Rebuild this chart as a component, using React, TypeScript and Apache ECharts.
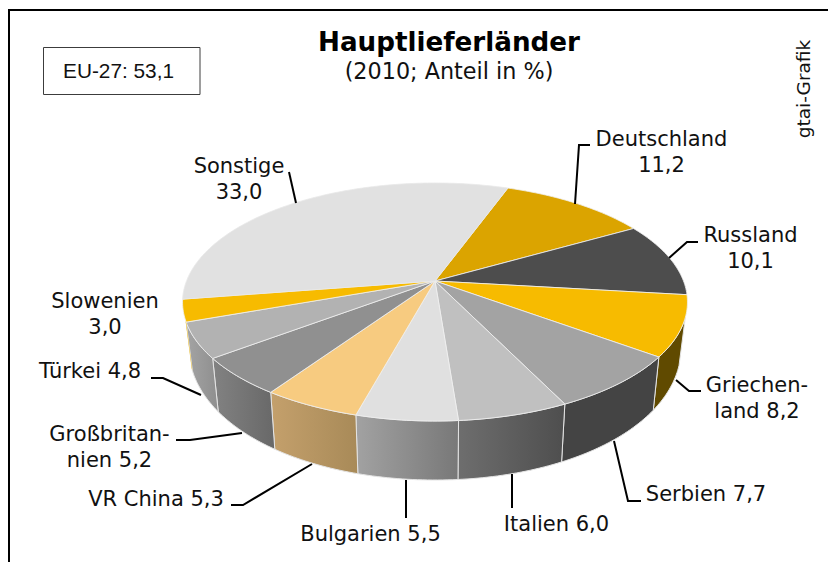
import React, { useEffect, useRef } from "react";
import * as echarts from "echarts";

const countries = ["Deutschland", "Russland", "Griechenland", "Serbien", "Italien", "Bulgarien", "VR China", "Großbritannien", "Türkei", "Slowenien", "Sonstige"];
const shares = [11.2, 10.1, 8.2, 7.7, 6.0, 5.5, 5.3, 5.2, 4.8, 3.0, 33.0];
const topColors = ["#DBA400", "#4D4D4D", "#F7BB00", "#A3A3A3", "#C0C0C0", "#E0E0E0", "#F7CB80", "#909090", "#B2B2B2", "#F7BB00", "#E1E1E1"];
const wallLeft = ["#DBA400", "#4D4D4D", "#604A00", "#444444", "#6E6E6E", "#A2A2A2", "#C4A06C", "#828282", "#A4A4A4", "#F7BB00", "#E1E1E1"];
const wallRight = ["#DBA400", "#4D4D4D", "#604A00", "#444444", "#4E4E4E", "#787878", "#A88A58", "#686868", "#8E8E8E", "#F7BB00", "#E1E1E1"];

const title = "Hauptlieferländer";
const subtitle = "(2010; Anteil in %)";
const boxText = "EU-27: 53,1";
const sourceText = "gtai-Grafik";
const labelLines = [
  ["Deutschland", "11,2"],
  ["Russland", "10,1"],
  ["Griechen-", "land 8,2"],
  ["Serbien 7,7"],
  ["Italien 6,0"],
  ["Bulgarien 5,5"],
  ["VR China 5,3"],
  ["Großbritan-", "nien 5,2"],
  ["Türkei 4,8"],
  ["Slowenien", "3,0"],
  ["Sonstige", "33,0"],
];

// layout, separate from the data
const labelAnchors = [
  [661.5, 138.5], [750.5, 234.5], [757, 384.5], [706, 493.5], [556.5, 523.5], [370.5, 533.5],
  [156, 498.5], [109.5, 433.5], [90, 370.5], [105, 300.5], [239, 165.5],
];
const LINE_STEP = 26;
const leaderLines: number[][][] = [
  [[575, 204], [579, 145], [590, 145]],
  [[669, 258], [687, 242], [698, 242]],
  [[676, 380], [689, 391], [701, 391]],
  [[614, 441], [628, 501], [641, 501]],
  [[512, 474], [512, 508]],
  [[406, 480], [406, 518]],
  [[312, 464], [243, 505], [231, 505]],
  [[242, 433], [190, 440], [176, 440]],
  [[201, 395], [163, 378], [151, 378]],
  [],
  [[296, 203], [289, 172]],
];

const CX = 435;
const CY = 281;
const A = 248.5;
const B = 115.3;
const K = 0.1765;
const START_DEG = 20;
const WALL_MIN = 107.5;
const WALL_MAX = 251.3;

const total = shares.reduce((s, v) => s + v, 0);
const rad = (d: number) => (d * Math.PI) / 180;

function topPoint(deg: number): number[] {
  const X = Math.sin(rad(deg));
  const Y = -Math.cos(rad(deg));
  const den = 1 - K * Y;
  return [CX + (A * X) / den, CY + (B * Y) / den];
}
function bottomPoint(deg: number): number[] {
  const Y = -Math.cos(rad(deg));
  const [x, y] = topPoint(deg);
  const h = 59 - 17 * Math.pow(Math.max(0, 1 - Y), 1.2);
  return [CX + (x - CX) * 0.975, y + h];
}
function arc(from: number, to: number, fn: (d: number) => number[]): number[][] {
  const n = Math.max(2, Math.ceil(Math.abs(to - from)));
  const pts: number[][] = [];
  for (let i = 0; i <= n; i++) pts.push(fn(from + ((to - from) * i) / n));
  return pts;
}

function renderSlice(params: any, api: any) {
  const i = params.dataIndex;
  let before = 0;
  for (let j = 0; j < i; j++) before += shares[j];
  const value = api.value(0);
  const start = START_DEG + (before / total) * 360;
  const end = start + (value / total) * 360;
  const children: any[] = [];
  const a = Math.max(start, WALL_MIN);
  const b = Math.min(end, WALL_MAX);
  if (b > a) {
    const thin = b - a < 5;
    children.push({
      type: "polygon",
      shape: { points: [...arc(a, b, topPoint), ...arc(b, a, bottomPoint)] },
      style: {
        fill: new echarts.graphic.LinearGradient(0, 0, 1, 0, [
          { offset: 0, color: wallLeft[i] },
          { offset: 1, color: wallRight[i] },
        ]),
        stroke: thin ? "none" : "#E4E4E4",
        lineWidth: thin ? 0 : 1,
      },
    });
  }
  children.push({
    type: "polygon",
    shape: { points: [[CX, CY], ...arc(start, end, topPoint)] },
    style: { fill: topColors[i], stroke: topColors[i] === "#E1E1E1" ? "#E8E8E8" : "#F0F0F0", lineWidth: 0.8 },
  });
  return { type: "group", children };
}

const VERDANA = "'DejaVu Sans', Verdana, sans-serif";
const ARIAL = "'Liberation Sans', Arial, sans-serif";

function buildGraphics() {
  const g: any[] = [
    { type: "polyline", z: 10, shape: { points: [[9, 562], [9, 10], [828, 10]] }, style: { fill: "none", stroke: "#000", lineWidth: 2 } },
    { type: "rect", z: 10, shape: { x: 43.5, y: 47.5, width: 156.5, height: 47 }, style: { fill: "#fff", stroke: "#3c3c3c", lineWidth: 1 } },
    { type: "text", z: 11, x: 118.5, y: 70, style: { text: boxText, fontFamily: ARIAL, fontSize: 20.8, fill: "#111", align: "center", verticalAlign: "middle" } },
    { type: "text", z: 11, x: 449, y: 42, style: { text: title, fontFamily: VERDANA, fontSize: 26.2, fontWeight: "bold", fill: "#000", align: "center", verticalAlign: "middle" } },
    { type: "text", z: 11, x: 449, y: 71, style: { text: subtitle, fontFamily: VERDANA, fontSize: 22.3, fill: "#111", align: "center", verticalAlign: "middle" } },
    { type: "text", z: 11, x: 803, y: 89, rotation: Math.PI / 2, style: { text: sourceText, fontFamily: VERDANA, fontSize: 18.5, fill: "#111", align: "center", verticalAlign: "middle" } },
  ];
  labelLines.forEach((lines, i) => {
    lines.forEach((line, j) => {
      g.push({
        type: "text", z: 11, x: labelAnchors[i][0], y: labelAnchors[i][1] + j * LINE_STEP,
        style: { text: line, fontFamily: VERDANA, fontSize: 21, fill: "#111", align: "center", verticalAlign: "middle" },
      });
    });
  });
  leaderLines.forEach((pts) => {
    if (pts.length) g.push({ type: "polyline", z: 10, shape: { points: pts }, style: { fill: "none", stroke: "#000", lineWidth: 2 } });
  });
  return g;
}

export default function App() {
  const ref = useRef<HTMLDivElement>(null);
  useEffect(() => {
    const chart = echarts.init(ref.current!, null, { renderer: "svg" });
    chart.setOption({
      animation: false,
      backgroundColor: "#ffffff",
      series: [
        {
          type: "custom",
          coordinateSystem: "none",
          silent: true,
          renderItem: renderSlice,
          data: shares.map((v, i) => ({ name: countries[i], value: [v] })),
        },
      ],
      graphic: { elements: buildGraphics() },
    });
    return () => chart.dispose();
  }, []);
  return <div ref={ref} style={{ position: "fixed", left: 0, top: 0, width: 828, height: 562 }} />;
}
